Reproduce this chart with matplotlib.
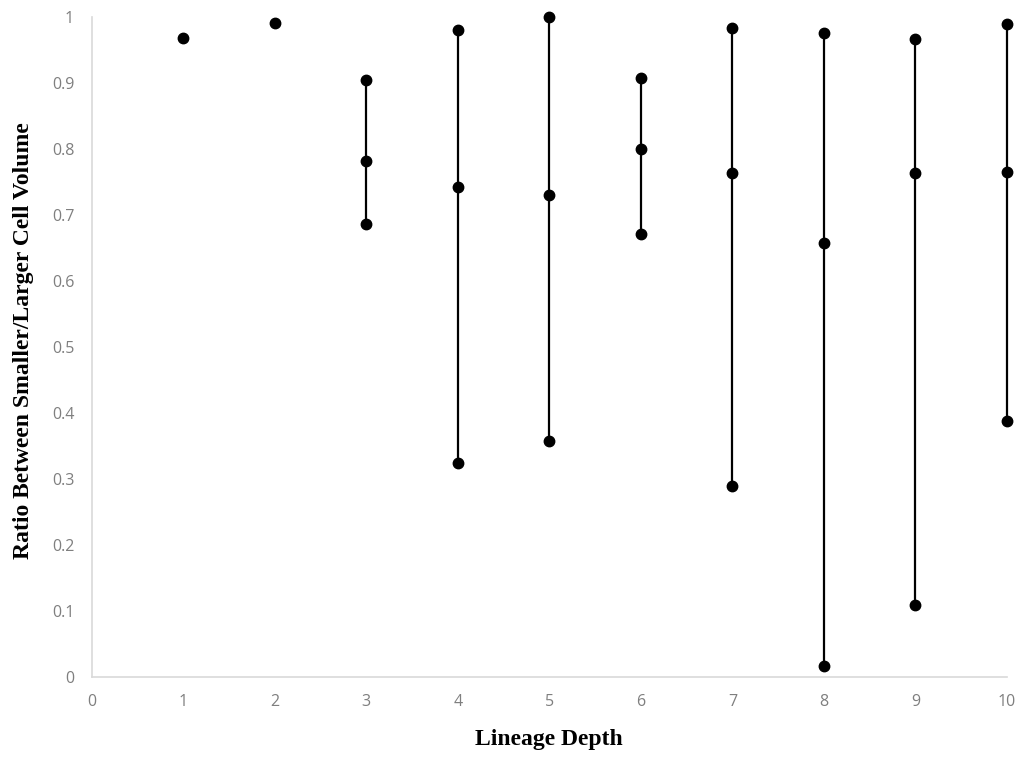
import matplotlib
matplotlib.use("Agg")
import matplotlib.pyplot as plt

# lineage depth and the measured volume ratios at each depth
depths = [1, 2, 3, 4, 5, 6, 7, 8, 9, 10]
ratios = [
    [0.968],
    [0.991],
    [0.905, 0.782, 0.686],
    [0.980, 0.742, 0.324],
    [1.000, 0.730, 0.358],
    [0.908, 0.800, 0.671],
    [0.983, 0.764, 0.289],
    [0.976, 0.658, 0.017],
    [0.967, 0.764, 0.109],
    [0.989, 0.765, 0.388],
]
xticks = list(range(0, 11))
yticks = [round(0.1 * i, 1) for i in range(11)]
yticklabels = ["0", "0.1", "0.2", "0.3", "0.4", "0.5", "0.6", "0.7", "0.8", "0.9", "1"]

fig = plt.figure(figsize=(10.24, 7.57), dpi=100)
ax = fig.add_axes([91.5 / 1024, 0.1057, (1007 - 91.5) / 1024, 0.8718])

for d, vals in zip(depths, ratios):
    ax.plot([d] * len(vals), vals, color="black", lw=1.6, marker="o",
            ms=7.5, markerfacecolor="black", markeredgecolor="black",
            clip_on=False, zorder=3)

ax.set_xlim(0, 10)
ax.set_ylim(0, 1)
ax.set_xticks(xticks)
ax.set_yticks(yticks)
ax.set_yticklabels(yticklabels)

for s in ["top", "right"]:
    ax.spines[s].set_visible(False)
for s in ["left", "bottom"]:
    ax.spines[s].set_color("#d9d9d9")
    ax.spines[s].set_linewidth(1.2)

ax.tick_params(axis="both", length=0, labelsize=11.5, colors="#7f7f7f")
ax.tick_params(axis="y", pad=12.5)
ax.tick_params(axis="x", pad=12)
for lab in ax.get_xticklabels() + ax.get_yticklabels():
    lab.set_family("Open Sans")

ax.set_xlabel("Lineage Depth", fontsize=17, fontweight="bold",
              family="Liberation Serif", labelpad=14)
ax.set_ylabel("Ratio Between Smaller/Larger Cell Volume", fontsize=17,
              fontweight="bold", family="Liberation Serif", labelpad=13)
ax.yaxis.label.set_y(0.509)

fig.savefig("out.png", dpi=100)
